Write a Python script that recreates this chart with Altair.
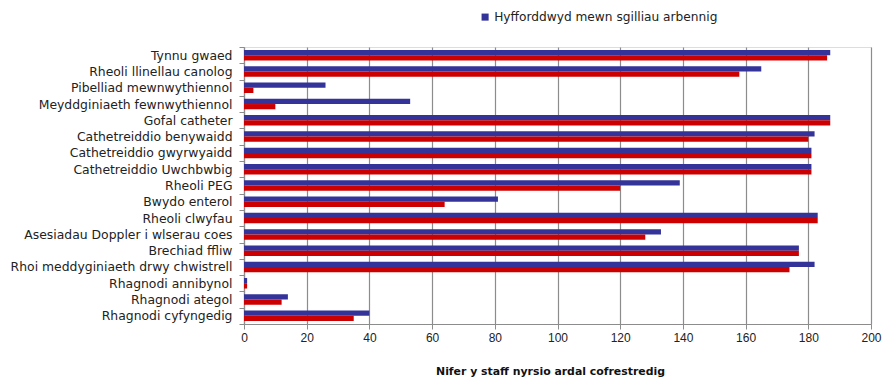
import altair as alt
import pandas as pd

# Skills, top to bottom
skills = [
    "Tynnu gwaed",
    "Rheoli llinellau canolog",
    "Pibelliad mewnwythiennol",
    "Meyddginiaeth fewnwythiennol",
    "Gofal catheter",
    "Cathetreiddio benywaidd",
    "Cathetreiddio gwyrwyaidd",
    "Cathetreiddio Uwchbwbig",
    "Rheoli PEG",
    "Bwydo enterol",
    "Rheoli clwyfau",
    "Asesiadau Doppler i wlserau coes",
    "Brechiad ffliw",
    "Rhoi meddyginiaeth drwy chwistrell",
    "Rhagnodi annibynol",
    "Rhagnodi ategol",
    "Rhagnodi cyfyngedig",
]

trained = [187, 165, 26, 53, 187, 182, 181, 181, 139, 81, 183, 133, 177, 182, 1, 14, 40]
practising = [186, 158, 3, 10, 187, 180, 181, 181, 120, 64, 183, 128, 177, 174, 1, 12, 35]

series_names = ["Hyfforddwyd mewn sgilliau arbennig", "Yn defnyddio'r sgiliau"]
series_colors = ["#333399", "#cc0000"]
x_ticks = list(range(0, 201, 20))

rows = []
for skill, a, b in zip(skills, trained, practising):
    rows.append({"skill": skill, "series": series_names[0], "value": a})
    rows.append({"skill": skill, "series": series_names[1], "value": b})
df = pd.DataFrame(rows)

LABEL_FONT = "DejaVu Sans"
TICK_FONT = "Liberation Sans"

chart = (
    alt.Chart(df)
    .mark_bar()
    .encode(
        x=alt.X(
            "value:Q",
            scale=alt.Scale(domain=[0, 200], nice=False, zero=True, padding=0),
            axis=alt.Axis(
                values=x_ticks,
                title="Nifer y staff nyrsio ardal cofrestredig",
                titleFont=LABEL_FONT,
                titleFontSize=10.9,
                titleFontWeight="bold",
                titleColor="#111111",
                titlePadding=22,
                titleX=306,
                labelFont=TICK_FONT,
                labelFontSize=12,
                labelColor="#222222",
                labelPadding=3,
                labelFlush=False,
                grid=True,
                gridColor="#8c8c8c",
                gridWidth=1.2,
                domainColor="#8c8c8c",
                domainWidth=1.2,
                tickColor="#8c8c8c",
                tickSize=5,
            ),
        ),
        y=alt.Y(
            "skill:N",
            sort=skills,
            scale=alt.Scale(paddingInner=0, paddingOuter=0),
            axis=alt.Axis(
                title=None,
                tickBand="extent",
                labelFont=LABEL_FONT,
                labelFontSize=12.4,
                labelColor="#222222",
                labelPadding=7,
                domainColor="#8c8c8c",
                domainWidth=1.2,
                tickColor="#8c8c8c",
                tickSize=5,
                grid=False,
                labelLimit=300,
            ),
        ),
        yOffset=alt.YOffset(
            "series:N",
            sort=series_names,
            scale=alt.Scale(paddingInner=0, paddingOuter=0.55),
        ),
        color=alt.Color(
            "series:N",
            scale=alt.Scale(domain=series_names, range=series_colors),
            legend=alt.Legend(
                values=[series_names[0]],
                orient="none",
                legendX=235,
                legendY=-36,
                title=None,
                symbolType="square",
                symbolSize=50,
                symbolStrokeWidth=0,
                labelFont=LABEL_FONT,
                labelFontSize=12.2,
                labelColor="#222222",
                labelOffset=3,
                labelLimit=400,
            ),
        ),
    )
    .properties(
        width=627,
        height=277,
        padding={"left": 244, "top": 47, "right": 11, "bottom": 54},
        autosize=alt.AutoSizeParams(type="none"),
    )
    .configure_view(stroke=None)
    .configure(background="white")
)

chart.save("out.html", embed_options={"renderer": "svg", "actions": False})
